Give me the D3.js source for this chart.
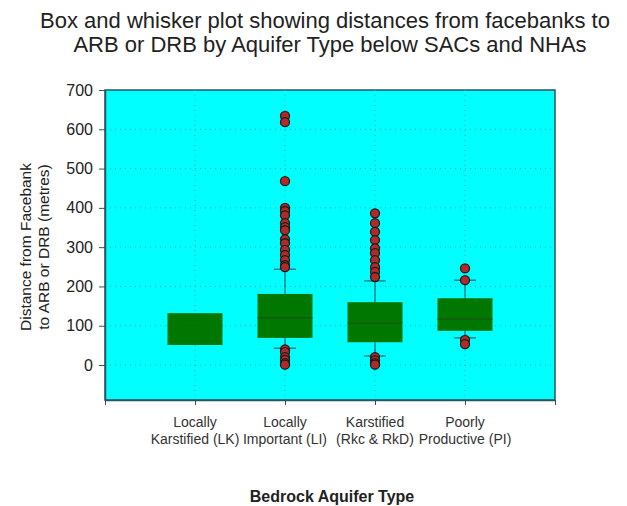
<!DOCTYPE html>
<html><head><meta charset="utf-8">
<script src="https://cdn.jsdelivr.net/npm/d3@7/dist/d3.min.js"></script>
<style>body{margin:0;background:#fff;}svg{display:block;font-family:Arial,"Liberation Sans",sans-serif;}</style>
</head><body><svg id="c" width="627" height="506"></svg>
<script>
const categories = [["Locally","Karstified (LK)"],["Locally","Important (LI)"],["Karstified","(Rkc & RkD)"],["Poorly","Productive (PI)"]];
const q1 = [51, 69, 58, 87];
const median = [100, 120, 107, 117];
const q3 = [132, 181, 160, 170];
const whiskerLow = [51, 43, 23, 69];
const whiskerHigh = [132, 244, 214, 216];
const outliersLK = [];
const outliersLI = [634, 618, 468, 400, 392, 381, 361, 351, 343, 320, 310, 293, 280, 267, 254, 249, 40, 33, 20, 13, 5, 1];
const outliersKR = [386, 361, 339, 318, 297, 285, 267, 249, 237, 224, 20, 12, 5, 1];
const outliersPI = [246, 216, 64, 53];
const outliers = [outliersLK, outliersLI, outliersKR, outliersPI];
const yTicks = [0, 100, 200, 300, 400, 500, 600, 700];

const svg = d3.select("#c");
const L = 105, R = 555, T = 90, B = 400;
const y = d3.scaleLinear().domain([-89, 700]).range([B, T]);
const x = d3.scaleLinear().domain([0, 5]).range([L, R]);
const boxW = 55;
const FF = "Arial, 'Liberation Sans', sans-serif";

svg.append("rect").attr("x", L).attr("y", T).attr("width", R - L).attr("height", B - T)
  .attr("fill", "#00ffff").attr("stroke", "#2a5560").attr("stroke-width", 1.5);

// grid
const g = svg.append("g");
g.selectAll("line.h").data(yTicks.filter(d => d < 700)).join("line")
  .attr("x1", L).attr("x2", R).attr("y1", d => y(d)).attr("y2", d => y(d))
  .attr("stroke", "#3aa8b0").attr("stroke-dasharray", "1,4").attr("stroke-width", 1);
g.selectAll("line.v").data(categories).join("line")
  .attr("x1", (d, i) => x(i + 1)).attr("x2", (d, i) => x(i + 1)).attr("y1", T).attr("y2", B)
  .attr("stroke", "#3aa8b0").attr("stroke-dasharray", "1,4").attr("stroke-width", 1);

// axes
const ya = svg.append("g").attr("transform", `translate(${L},0)`)
  .call(d3.axisLeft(y).tickValues(yTicks).tickSizeInner(6).tickSizeOuter(0).tickPadding(6));
ya.select(".domain").attr("stroke", "#2a5560").attr("stroke-width", 1.5);
ya.selectAll(".tick line").attr("stroke", "#2a5560");
ya.selectAll(".tick text").attr("font-size", 16).attr("fill", "#222").attr("font-family", FF);

const xa = svg.append("g").attr("transform", `translate(0,${B})`)
  .call(d3.axisBottom(x).tickValues([0, 1, 2, 3, 4, 5]).tickSizeInner(5).tickSizeOuter(0).tickFormat(""));
xa.select(".domain").attr("stroke", "#2a5560").attr("stroke-width", 1.5);
xa.selectAll(".tick line").attr("stroke", "#2a5560");

// category labels
const cl = svg.append("g");
categories.forEach((c, i) => {
  c.forEach((t, j) => {
    cl.append("text").attr("x", x(i + 1)).attr("y", 427 + j * 16.5).attr("text-anchor", "middle")
      .attr("font-size", 14).attr("fill", "#333").text(t);
  });
});

// boxes
const bx = svg.append("g");
categories.forEach((c, i) => {
  const cx = x(i + 1);
  if (whiskerHigh[i] > q3[i]) {
    bx.append("line").attr("x1", cx).attr("x2", cx).attr("y1", y(q3[i])).attr("y2", y(whiskerHigh[i])).attr("stroke", "#2a4a4a");
    bx.append("line").attr("x1", cx - 11).attr("x2", cx + 11).attr("y1", y(whiskerHigh[i])).attr("y2", y(whiskerHigh[i])).attr("stroke", "#2a4a4a");
  }
  if (whiskerLow[i] < q1[i]) {
    bx.append("line").attr("x1", cx).attr("x2", cx).attr("y1", y(q1[i])).attr("y2", y(whiskerLow[i])).attr("stroke", "#2a4a4a");
    bx.append("line").attr("x1", cx - 11).attr("x2", cx + 11).attr("y1", y(whiskerLow[i])).attr("y2", y(whiskerLow[i])).attr("stroke", "#2a4a4a");
  }
  bx.append("rect").attr("x", cx - boxW / 2).attr("y", y(q3[i])).attr("width", boxW).attr("height", y(q1[i]) - y(q3[i]))
    .attr("fill", "#007800");
  bx.append("line").attr("x1", cx - boxW / 2).attr("x2", cx + boxW / 2).attr("y1", y(median[i])).attr("y2", y(median[i]))
    .attr("stroke", i === 0 ? "#0a700a" : "#1f4a1f").attr("stroke-width", 1);
  bx.selectAll(null).data(outliers[i]).join("circle")
    .attr("cx", cx).attr("cy", d => y(d)).attr("r", 4.5)
    .attr("fill", "#b02a2a").attr("stroke", "#1a1a1a").attr("stroke-width", 1.3);
});

// titles
svg.append("text").attr("x", 325).attr("y", 28).attr("text-anchor", "middle").attr("font-size", 22).attr("fill", "#222")
  .text("Box and whisker plot showing distances from facebanks to");
svg.append("text").attr("x", 330).attr("y", 52).attr("text-anchor", "middle").attr("font-size", 22).attr("fill", "#222")
  .text("ARB or DRB by Aquifer Type below SACs and NHAs");
const yl = svg.append("text").attr("transform", "translate(31,247) rotate(-90)").attr("text-anchor", "middle")
  .attr("font-size", 15.5).attr("fill", "#222");
yl.append("tspan").attr("x", 0).attr("dy", 0).text("Distance from Facebank");
yl.append("tspan").attr("x", 0).attr("dy", 18).text("to ARB or DRB (metres)");
svg.append("text").attr("x", 332).attr("y", 502).attr("text-anchor", "middle").attr("font-size", 16)
  .attr("font-weight", "bold").attr("fill", "#222").text("Bedrock Aquifer Type");
</script></body></html>
